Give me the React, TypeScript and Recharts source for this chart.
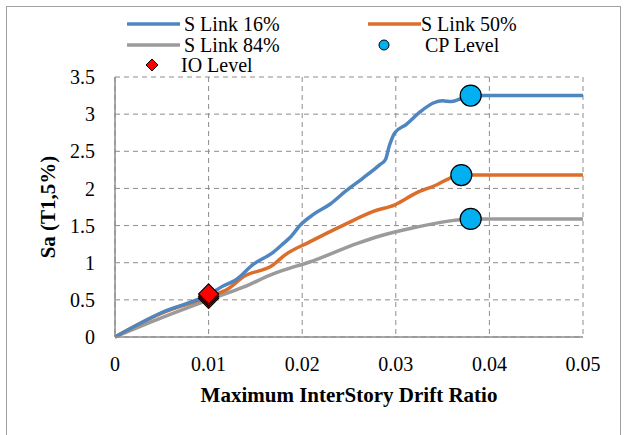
import {
    ComposedChart, Line, Scatter, XAxis, YAxis, CartesianGrid, Legend
} from 'recharts';

// S Link fragility-style curves (drift ratio, Sa)
const link16 = [
    { drift: 0, sa: 0 }, { drift: 0.005, sa: 0.33 }, { drift: 0.01, sa: 0.57 },
    { drift: 0.0116, sa: 0.69 }, { drift: 0.0128, sa: 0.76 }, { drift: 0.0148, sa: 0.98 },
    { drift: 0.0169, sa: 1.14 }, { drift: 0.018, sa: 1.26 }, { drift: 0.0187, sa: 1.34 },
    { drift: 0.0199, sa: 1.52 }, { drift: 0.0212, sa: 1.65 }, { drift: 0.023, sa: 1.79 },
    { drift: 0.0247, sa: 1.97 }, { drift: 0.0265, sa: 2.14 }, { drift: 0.0283, sa: 2.32 },
    { drift: 0.0289, sa: 2.39 }, { drift: 0.0293, sa: 2.57 }, { drift: 0.0299, sa: 2.75 },
    { drift: 0.0311, sa: 2.86 }, { drift: 0.0325, sa: 3.02 }, { drift: 0.034, sa: 3.15 },
    { drift: 0.035, sa: 3.18 }, { drift: 0.0359, sa: 3.17 }, { drift: 0.0368, sa: 3.2 },
    { drift: 0.038, sa: 3.25 }, { drift: 0.05, sa: 3.25 },
];

const link50 = [
    { drift: 0, sa: 0 }, { drift: 0.0048, sa: 0.31 }, { drift: 0.01, sa: 0.54 },
    { drift: 0.0121, sa: 0.65 }, { drift: 0.0137, sa: 0.81 }, { drift: 0.0169, sa: 0.97 },
    { drift: 0.018, sa: 1.09 }, { drift: 0.0208, sa: 1.28 }, { drift: 0.0248, sa: 1.53 },
    { drift: 0.0276, sa: 1.69 }, { drift: 0.0299, sa: 1.78 }, { drift: 0.0322, sa: 1.94 },
    { drift: 0.0344, sa: 2.05 }, { drift: 0.0358, sa: 2.14 }, { drift: 0.037, sa: 2.18 },
    { drift: 0.05, sa: 2.18 },
];

const link84 = [
    { drift: 0, sa: 0 }, { drift: 0.005, sa: 0.26 }, { drift: 0.01, sa: 0.5 },
    { drift: 0.0137, sa: 0.67 }, { drift: 0.0169, sa: 0.85 }, { drift: 0.018, sa: 0.9 },
    { drift: 0.0208, sa: 1.01 }, { drift: 0.0259, sa: 1.26 }, { drift: 0.0283, sa: 1.36 },
    { drift: 0.0319, sa: 1.47 }, { drift: 0.0362, sa: 1.57 }, { drift: 0.038, sa: 1.59 },
    { drift: 0.05, sa: 1.59 },
];

const cpLevel = [
    { drift: 0.038, sa: 3.25 }, { drift: 0.037, sa: 2.18 }, { drift: 0.038, sa: 1.59 },
];

const ioLevel = [
    { drift: 0.01, sa: 0.52 }, { drift: 0.01, sa: 0.55 }, { drift: 0.01, sa: 0.58 },
];

const xTicks = [0, 0.01, 0.02, 0.03, 0.04, 0.05];
const yTicks = [0, 0.5, 1, 1.5, 2, 2.5, 3, 3.5];

const BLUE = '#4f86c0';
const ORANGE = '#db6e2a';
const GRAY = '#9b9b9b';
const CYAN = '#00b0f0';
const RED = '#ff0000';

const Circle = (props: any) => {
    const { cx, cy } = props;
    return <circle cx={cx} cy={cy} r={10.5} fill={CYAN} stroke="#000" strokeWidth={1.2} />;
};

const Diamond = (props: any) => {
    const { cx, cy } = props;
    const s = 10;
    return (
        <polygon
            points={`${cx},${cy - s} ${cx + s},${cy} ${cx},${cy + s} ${cx - s},${cy}`}
            fill={RED}
            stroke="#000"
            strokeWidth={1.2}
        />
    );
};

// legend drawn by hand to match Excel's 2-column layout
const ChartLegend = () => (
    <svg width={629} height={80}>
        <line x1={127} y1={24} x2={180} y2={24} stroke={BLUE} strokeWidth={3.5} />
        <text x={184} y={31} fontSize={20}>S Link 16%</text>
        <line x1={368} y1={24} x2={421} y2={24} stroke={ORANGE} strokeWidth={3.5} />
        <text x={421} y={31} fontSize={20}>S Link 50%</text>
        <line x1={127} y1={45} x2={180} y2={45} stroke={GRAY} strokeWidth={3.5} />
        <text x={184} y={52} fontSize={20}>S Link 84%</text>
        <circle cx={384} cy={45} r={5} fill={CYAN} stroke="#000" strokeWidth={1} />
        <text x={425} y={52} fontSize={20}>CP Level</text>
        <polygon points="152,59 158,65 152,71 146,65" fill={RED} stroke="#000" strokeWidth={1} />
        <text x={181} y={72} fontSize={20}>IO Level</text>
    </svg>
);

export default function App() {
    return (
        <div
            style={{
                position: 'absolute', left: 0, top: 0, width: 629, height: 435,
                background: '#fff', overflow: 'hidden',
                fontFamily: '"Liberation Serif", "Times New Roman", serif',
            }}
        >
            <div
                style={{
                    position: 'absolute', left: 6, top: 6, width: 615, height: 450,
                    border: '1.5px solid #a0a0a0', boxSizing: 'border-box',
                }}
            />
            <div style={{ position: 'absolute', left: 0, top: 0 }}>
                <ComposedChart
                    width={629}
                    height={435}
                    margin={{ top: 77, right: 46, left: 40, bottom: 58 }}
                >
                    <CartesianGrid stroke="#8c8c8c" strokeDasharray="5 4" strokeWidth={1} />
                    <XAxis
                        type="number"
                        dataKey="drift"
                        domain={[0, 0.05]}
                        ticks={xTicks}
                        tickLine={false}
                        tickMargin={14}
                        height={40}
                        stroke="#8c8c8c"
                        strokeWidth={1.5}
                        tick={{ fill: '#000', fontSize: 20 }}
                        allowDuplicatedCategory={false}
                        label={{
                            value: 'Maximum InterStory Drift Ratio',
                            position: 'bottom',
                            offset: 10,
                            fill: '#000',
                            fontSize: 21,
                            fontWeight: 'bold',
                        }}
                    />
                    <YAxis
                        type="number"
                        dataKey="sa"
                        domain={[0, 3.5]}
                        ticks={yTicks}
                        tickLine={false}
                        tickMargin={14}
                        width={75}
                        stroke="#8c8c8c"
                        strokeWidth={1.5}
                        tick={{ fill: '#000', fontSize: 20 }}
                        label={{
                            value: 'Sa (T1,5%)',
                            angle: -90,
                            position: 'insideLeft',
                            offset: 8,
                            fill: '#000',
                            fontSize: 21,
                            fontWeight: 'bold',
                            style: { textAnchor: 'middle' },
                        }}
                    />
                    <Legend
                        layout="horizontal"
                        verticalAlign="middle"
                        align="center"
                        wrapperStyle={{ top: 0, left: 0, width: 629, height: 80 }}
                        content={() => <ChartLegend />}
                    />
                    <Line data={link84} dataKey="sa" name="S Link 84%" type="monotone" stroke={GRAY} strokeWidth={3.5} dot={false} isAnimationActive={false} />
                    <Line data={link50} dataKey="sa" name="S Link 50%" type="monotone" stroke={ORANGE} strokeWidth={3.5} dot={false} isAnimationActive={false} />
                    <Line data={link16} dataKey="sa" name="S Link 16%" type="monotone" stroke={BLUE} strokeWidth={3.5} dot={false} isAnimationActive={false} />
                    <Scatter data={cpLevel} dataKey="sa" name="CP Level" shape={<Circle />} isAnimationActive={false} />
                    <Scatter data={ioLevel} dataKey="sa" name="IO Level" shape={<Diamond />} isAnimationActive={false} />
                </ComposedChart>
            </div>
        </div>
    );
}
